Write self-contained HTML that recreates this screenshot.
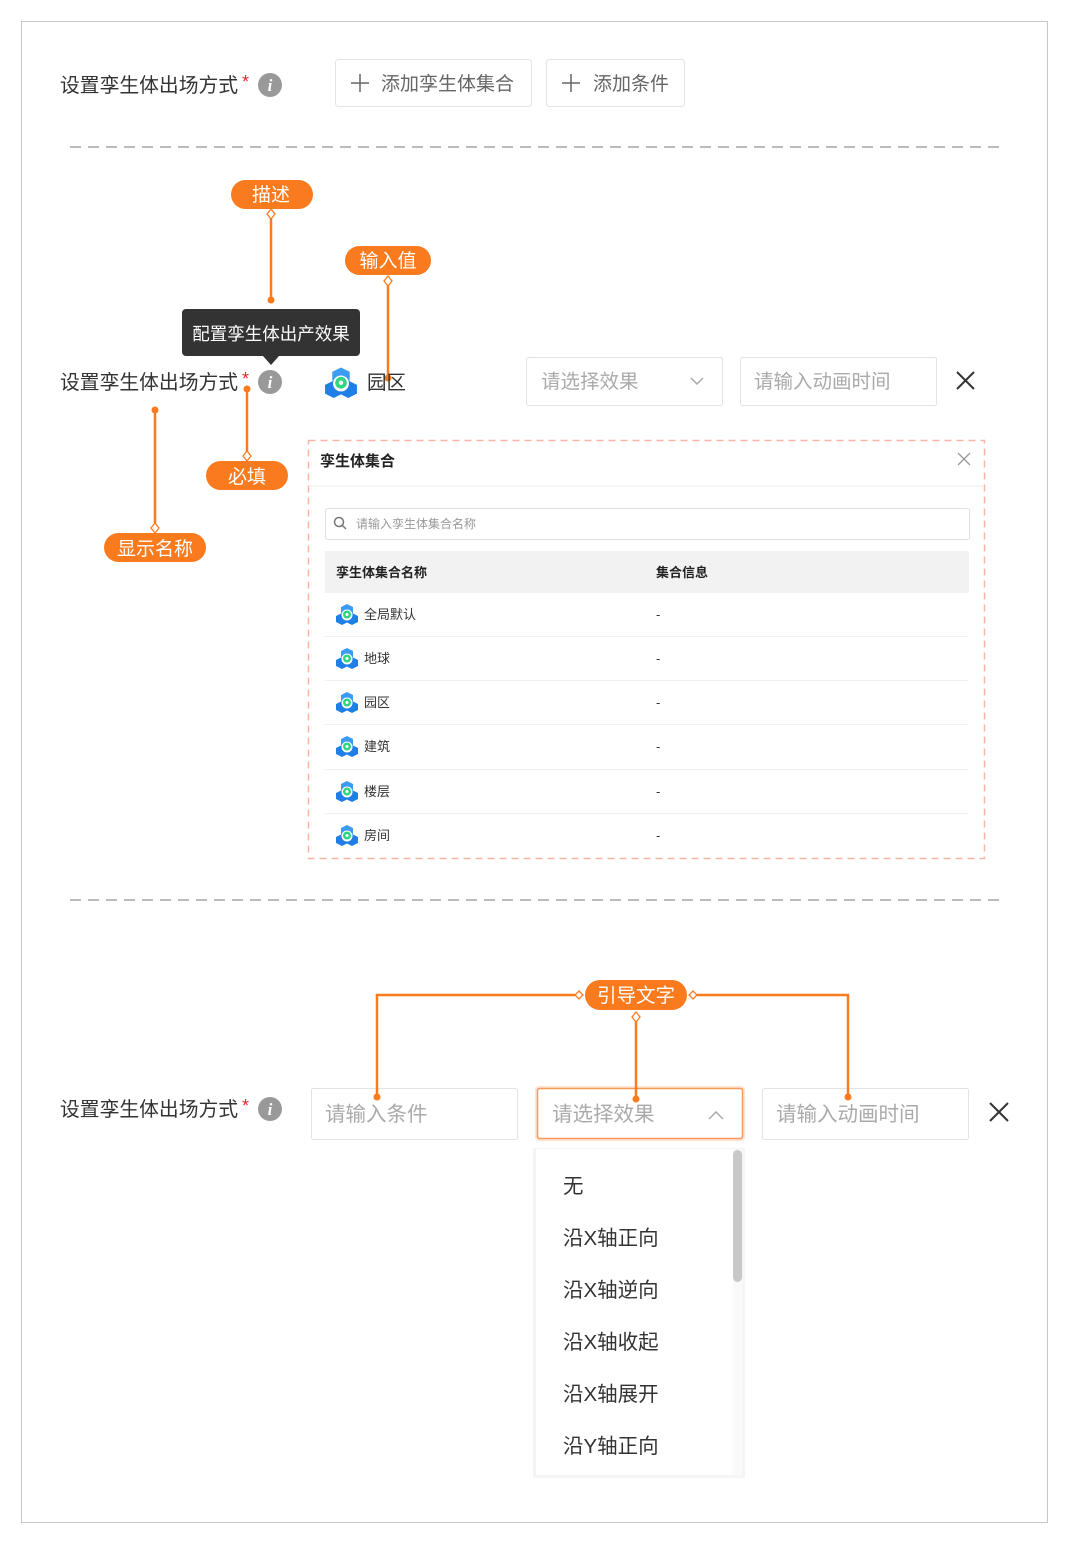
<!DOCTYPE html>
<html><head><meta charset="utf-8"><style>
html,body{margin:0;padding:0;background:#fff;width:1067px;height:1545px;overflow:hidden}
svg text{font-family:"Liberation Sans","Noto Sans CJK SC",sans-serif}
</style></head><body>
<svg width="1067" height="1545" viewBox="0 0 1067 1545" xmlns="http://www.w3.org/2000/svg">
<defs>
<g id="ic">
<path d="M0,-10 L6,-7 L6,-1 L0,2 L-6,-1 L-6,-7Z" fill="#3a9bf0"/>
<path d="M-5,-1 L1,2 L1,8 L-5,11 L-11,8 L-11,2Z" fill="#1f7fe6"/>
<path d="M5,-1 L11,2 L11,8 L5,11 L-1,8 L-1,2Z" fill="#1f7fe6"/>
<circle cx="0" cy="1" r="5.5" fill="#fff"/>
<circle cx="0" cy="0.5" r="4" fill="#2fd67f"/>
<circle cx="0" cy="0.5" r="1.5" fill="#fff"/>
</g>
<g id="info"><circle r="12" fill="#999"/><text x="0" y="6" font-size="17" font-style="italic" font-weight="bold" fill="#fff" text-anchor="middle" style="font-family:'Liberation Serif',serif">i</text></g>
</defs>
<rect x="21.5" y="21.5" width="1026" height="1501" fill="none" stroke="#c8c8c8"/>
<line x1="70" y1="147" x2="1000" y2="147" stroke="#bbb" stroke-width="2" stroke-dasharray="11,7"/>
<line x1="70" y1="900" x2="1000" y2="900" stroke="#bbb" stroke-width="2" stroke-dasharray="11,7"/>

<!-- Row 1 -->
<text x="60" y="92" font-size="19.8" fill="#333">设置孪生体出场方式</text>
<text x="242" y="88" font-size="18" fill="#f5222d">*</text>
<use href="#info" x="270" y="85"/>
<rect x="335.5" y="59.5" width="196" height="47" rx="3" fill="#fff" stroke="#e3e3e3"/>
<path d="M351,83h18M360,74v18" stroke="#666" stroke-width="1.5"/>
<text x="381" y="90" font-size="19" fill="#666">添加孪生体集合</text>
<rect x="546.5" y="59.5" width="138" height="47" rx="3" fill="#fff" stroke="#e3e3e3"/>
<path d="M562,83h18M571,74v18" stroke="#666" stroke-width="1.5"/>
<text x="593" y="90" font-size="19" fill="#666">添加条件</text>

<!-- Section 2 annotations -->
<g stroke="#fa7a1e" stroke-width="2.5" fill="none">
<line x1="271" y1="214" x2="271" y2="300"/>
<line x1="388" y1="281" x2="388" y2="378"/>
<line x1="247" y1="389" x2="247" y2="455"/>
<line x1="155" y1="410" x2="155" y2="528"/>
</g>
<g fill="#fa7a1e">
<circle cx="271" cy="300" r="3.5"/><circle cx="388" cy="378" r="3.5"/>
<circle cx="247" cy="389" r="3.5"/><circle cx="155" cy="410" r="3.5"/>
</g>
<g fill="#fff" stroke="#fa7a1e" stroke-width="1.3">
<path d="M271,209l4,5l-4,5l-4,-5z"/><path d="M388,276l4,5l-4,5l-4,-5z"/>
<path d="M247,451l4,5l-4,5l-4,-5z"/><path d="M155,523l4,5l-4,5l-4,-5z"/>
</g>
<rect x="231" y="180" width="82" height="29" rx="14.5" fill="#fa7a1e"/>
<text x="271" y="201" font-size="19" fill="#fff" text-anchor="middle">描述</text>
<rect x="345" y="246" width="86" height="29" rx="14.5" fill="#fa7a1e"/>
<text x="388" y="267" font-size="19" fill="#fff" text-anchor="middle">输入值</text>
<rect x="206" y="461" width="82" height="29" rx="14.5" fill="#fa7a1e"/>
<text x="247" y="483" font-size="19" fill="#fff" text-anchor="middle">必填</text>
<rect x="104" y="533" width="102" height="29" rx="14.5" fill="#fa7a1e"/>
<text x="155" y="555" font-size="19" fill="#fff" text-anchor="middle">显示名称</text>

<rect x="182" y="309" width="178" height="47" rx="4" fill="#333"/>
<path d="M263,356l8,9l8,-9z" fill="#333"/>
<text x="271" y="340" font-size="17.5" fill="#fff" text-anchor="middle">配置孪生体出产效果</text>

<text x="60" y="389" font-size="19.8" fill="#333">设置孪生体出场方式</text>
<text x="242" y="385" font-size="18" fill="#f5222d">*</text>
<use href="#info" x="270" y="382"/>
<use href="#ic" transform="translate(341,382) scale(1.45)"/>
<text x="367" y="389" font-size="19.5" fill="#333">园区</text>
<rect x="526.5" y="357.5" width="196" height="48" rx="2" fill="#fff" stroke="#e3e3e3"/>
<text x="541" y="388" font-size="19.5" fill="#aaa">请选择效果</text>
<path d="M691,378l6,6l6,-6" stroke="#aaa" stroke-width="1.5" fill="none"/>
<rect x="740.5" y="357.5" width="196" height="48" rx="2" fill="#fff" stroke="#e3e3e3"/>
<text x="754" y="388" font-size="19.5" fill="#aaa">请输入动画时间</text>
<path d="M957,372l17,17M974,372l-17,17" stroke="#333" stroke-width="2"/>

<!-- Modal -->
<rect x="308.5" y="440.5" width="676" height="418" fill="#fff" stroke="#f8b4a4" stroke-width="1.5" stroke-dasharray="7,5"/>
<text x="320" y="466" font-size="15" font-weight="bold" fill="#222">孪生体集合</text>
<path d="M958,453l12,12M970,453l-12,12" stroke="#999" stroke-width="1.3"/>
<line x1="310" y1="486" x2="983" y2="486" stroke="#eee"/>
<rect x="325.5" y="508.5" width="644" height="31" rx="2" fill="#fff" stroke="#e0e0e0"/>
<circle cx="339" cy="522" r="4.5" fill="none" stroke="#777" stroke-width="1.5"/>
<line x1="342.5" y1="525.5" x2="346" y2="529" stroke="#777" stroke-width="1.5"/>
<text x="356" y="528" font-size="12" fill="#999">请输入孪生体集合名称</text>
<rect x="325" y="551" width="644" height="42" fill="#f2f2f2"/>
<text x="336" y="577" font-size="13" font-weight="bold" fill="#222">孪生体集合名称</text>
<text x="656" y="577" font-size="13" font-weight="bold" fill="#222">集合信息</text>
<g font-size="13" fill="#333">
<use href="#ic" x="347" y="614"/><text x="364" y="619">全局默认</text><text x="656" y="619">-</text>
<line x1="325" y1="636.5" x2="969" y2="636.5" stroke="#f0f0f0"/>
<use href="#ic" x="347" y="658"/><text x="364" y="663">地球</text><text x="656" y="663">-</text>
<line x1="325" y1="680.5" x2="969" y2="680.5" stroke="#f0f0f0"/>
<use href="#ic" x="347" y="702"/><text x="364" y="707">园区</text><text x="656" y="707">-</text>
<line x1="325" y1="724.5" x2="969" y2="724.5" stroke="#f0f0f0"/>
<use href="#ic" x="347" y="746"/><text x="364" y="751">建筑</text><text x="656" y="751">-</text>
<line x1="325" y1="769.5" x2="969" y2="769.5" stroke="#f0f0f0"/>
<use href="#ic" x="347" y="791"/><text x="364" y="796">楼层</text><text x="656" y="796">-</text>
<line x1="325" y1="813.5" x2="969" y2="813.5" stroke="#f0f0f0"/>
<use href="#ic" x="347" y="835"/><text x="364" y="840">房间</text><text x="656" y="840">-</text>
</g>

<!-- Section 3 -->
<text x="60" y="1116" font-size="19.8" fill="#333">设置孪生体出场方式</text>
<text x="242" y="1112" font-size="18" fill="#f5222d">*</text>
<use href="#info" x="270" y="1109"/>
<rect x="311.5" y="1088.5" width="206" height="51" rx="2" fill="#fff" stroke="#e3e3e3"/>
<text x="325" y="1121" font-size="20.5" fill="#aaa">请输入条件</text>
<rect x="535" y="1086" width="210" height="55" rx="4" fill="#ffe6d6"/>
<rect x="537.5" y="1088.5" width="205" height="50" rx="2" fill="#fff" stroke="#fa9a5a" stroke-width="1.5"/>
<text x="552" y="1121" font-size="20.5" fill="#aaa">请选择效果</text>
<path d="M709,1119l7,-7l7,7" stroke="#aaa" stroke-width="1.5" fill="none"/>
<rect x="762.5" y="1088.5" width="206" height="51" rx="2" fill="#fff" stroke="#e3e3e3"/>
<text x="776" y="1121" font-size="20.5" fill="#aaa">请输入动画时间</text>
<path d="M990,1103l18,18M1008,1103l-18,18" stroke="#333" stroke-width="2"/>

<g stroke="#fa7a1e" stroke-width="2.5" fill="none">
<polyline points="575,995 377,995 377,1097"/>
<polyline points="697,995 848,995 848,1097"/>
<line x1="636" y1="1020" x2="636" y2="1099"/>
</g>
<g fill="#fa7a1e"><circle cx="377" cy="1097" r="3.5"/><circle cx="848" cy="1097" r="3.5"/><circle cx="636" cy="1099" r="3.5"/></g>
<rect x="585" y="980" width="102" height="30" rx="15" fill="#fa7a1e"/>
<text x="636" y="1002" font-size="19.5" fill="#fff" text-anchor="middle">引导文字</text>
<g fill="#fff" stroke="#fa7a1e" stroke-width="1.3">
<path d="M579,991l4,4l-4,4l-4,-4z"/><path d="M693,991l4,4l-4,4l-4,-4z"/><path d="M636,1012l4,5l-4,5l-4,-5z"/>
</g>

<rect x="533" y="1148" width="212" height="330" fill="#ececec" opacity="0.5"/>
<rect x="536" y="1149" width="206" height="326" fill="#fff"/>
<rect x="733" y="1149" width="9" height="326" fill="#fafafa"/>
<rect x="733" y="1150" width="9" height="132" rx="4.5" fill="#c8c8c8"/>
<g font-size="20.5" fill="#333">
<text x="563" y="1193">无</text>
<text x="563" y="1245">沿X轴正向</text>
<text x="563" y="1297">沿X轴逆向</text>
<text x="563" y="1349">沿X轴收起</text>
<text x="563" y="1401">沿X轴展开</text>
<text x="563" y="1453">沿Y轴正向</text>
</g>
</svg>
</body></html>
